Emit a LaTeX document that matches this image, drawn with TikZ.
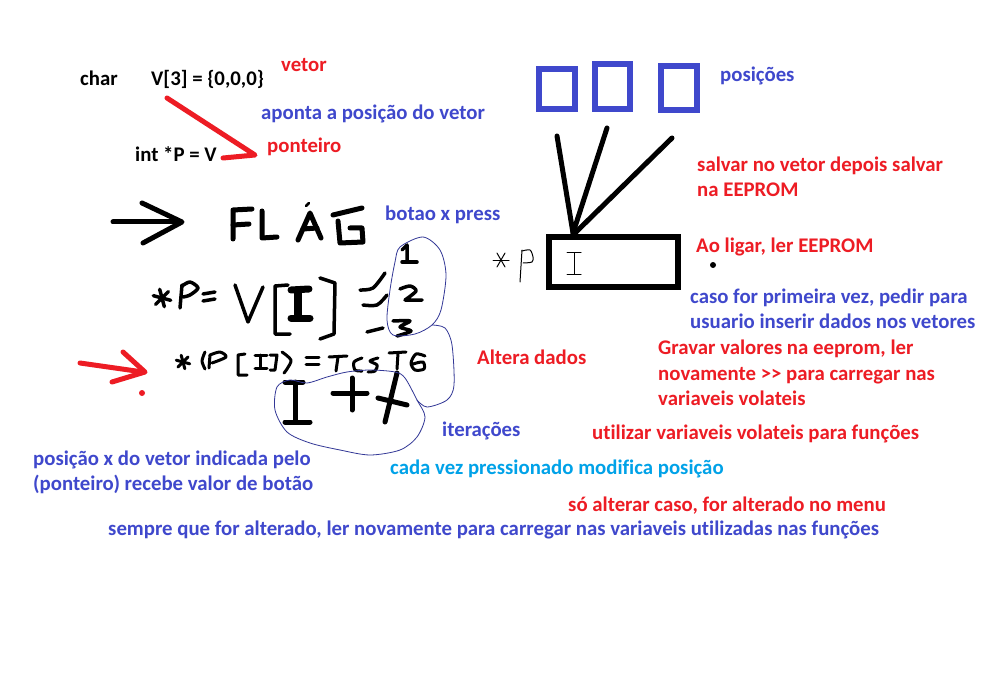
\documentclass[tikz,border=0pt]{standalone}
\usepackage{fontspec}
\setmainfont{Carlito}[Ligatures=CommonOff]
\definecolor{pred}{RGB}{237,28,36}
\definecolor{pblue}{RGB}{63,72,204}
\definecolor{pcyan}{RGB}{0,162,232}
\definecolor{pline}{RGB}{50,55,150}
\begin{document}
\begin{tikzpicture}[x=1pt, y=-1pt,
  txt/.style={anchor=base west, inner sep=0pt,
    font=\fontsize{20.8}{25}\selectfont\bfseries},
  redtxt/.style={txt, text=pred},
  bluetxt/.style={txt, text=pblue},
  cyantxt/.style={txt, text=pcyan},
  blacktxt/.style={txt, text=black},
  pen/.style={line width=5pt, line cap=round, line join=round},
  midpen/.style={line width=3.5pt, line cap=round, line join=round},
  smallpen/.style={line width=3pt, line cap=round, line join=round},
  thinpen/.style={line width=1pt, line cap=round, line join=round},
  boxpen/.style={line width=6pt, line join=miter},
  blob/.style={line width=0.8pt, draw=pline},
]

% Canvas
\useasboundingbox (0,0) rectangle (996,695);
\fill[white] (0,0) rectangle (996,695);

% Declarations (top left)
\node[blacktxt] (char) at (80,86) {char};
\node[blacktxt] (vec) at (151,86) {V[3] = \{0,0,0\}};
\node[redtxt] (vetor) at (281,72) {vetor};
\node[bluetxt] (aponta) at (261,120) {aponta a posição do vetor};
\node[blacktxt] (intp) at (135,162) {int *P = V};
\node[redtxt] (ponteiro) at (267,153) {ponteiro};

% Red pointer stroke
\coordinate (tip) at (255,155);
\draw[pen, pred] (167,98) -- (tip) -- (223,158);

% Arrow and FLAG
\draw[pen] (113,222) -- (180,222);
\draw[pen] (142,203) -- (182,222) -- (143,243);
\draw[pen] (252,209) -- (233,210) -- (233,239);
\draw[pen] (233,225) -- (249,224);
\draw[pen] (262,211) -- (262,238) -- (277,237);
\draw[pen] (298,240) -- (310,213) -- (321,238);
\draw[pen] (303,229) -- (317,228);
\draw[line width=2.5pt, line cap=round] (306,206) -- (309,203);
\draw[pen] (333,215) -- (362,208);
\draw[pen] (350,228) -- (362,228) -- (363,242) -- (340,243) -- (338,221);
\node[bluetxt] (botao) at (385,221) {botao x press};

% *P = V[I] = 1 2 3
\foreach \a in {15,75,135}
  \draw[midpen] (162,298) ++(\a:9) -- ++(\a+180:18);
\draw[midpen] (182,285) -- (180,308);
\draw[midpen] plot[smooth] coordinates {(182,286) (190,282) (198,288) (190,295) (183,297)};
\draw[midpen] (203,294) -- (215,292);
\draw[midpen] (203,301) -- (215,299);
\draw[midpen] (235,285) -- (248,322) -- (263,287);
\draw[midpen] (288,285) -- (275,286) -- (275,334) -- (290,334);
\draw[line width=8pt, line cap=round] (298,291) -- (298,317);
\draw[line width=7pt, line cap=round] (291,290) -- (309,289);
\draw[line width=7pt, line cap=round] (291,318) -- (310,318);
\draw[midpen] (320,278) -- (335,283) -- (334,334) -- (320,339);
\draw[midpen] plot[smooth] coordinates {(360,290) (373,288) (385,273)};
\draw[midpen] plot[smooth] coordinates {(363,305) (377,305) (387,295)};
\draw[midpen] (367,332) -- (383,328);
\draw[midpen] (402,250) -- (407,245) -- (407,262);
\draw[midpen] (402,262) -- (417,262);
\draw[midpen] plot[smooth] coordinates {(400,289) (410,286) (416,291) (405,300)} -- (422,300);
\draw[midpen] plot[smooth] coordinates {(393,321) (410,321) (400,327) (411,331) (397,336)};

% Red arrow
\draw[pen, pred] (80,363) -- (143,372);
\draw[pen, pred] (123,352) -- (145,372) -- (112,382);
\fill[pred] (142,393) circle (3);

% *(P[I]) = TcsT6
\foreach \a in {15,75,135}
  \draw[smallpen] (183,362) ++(\a:7) -- ++(\a+180:14);
\draw[smallpen] plot[smooth] coordinates {(205,352) (202,361) (205,369)};
\draw[smallpen] (210,355) -- (209,368);
\draw[smallpen] plot[smooth] coordinates {(210,355) (220,352) (226,357) (212,363)};
\draw[smallpen] (245,354) -- (238,355) -- (238,375) -- (247,375);
\draw[smallpen] (260,355) -- (260,368);
\draw[smallpen] (255,355) -- (267,355);
\draw[smallpen] (255,368) -- (267,368);
\draw[smallpen] (270,355) -- (277,355) -- (275,370) -- (270,370);
\draw[smallpen] plot[smooth] coordinates {(282,352) (291,360) (287,369) (284,373)};
\draw[smallpen] (306,357) -- (319,357);
\draw[smallpen] (306,364) -- (319,364);
\draw[smallpen] (329,357) -- (347,356);
\draw[smallpen] (338,357) -- (336,371);
\draw[smallpen] plot[smooth] coordinates {(362,358) (354,362) (355,370) (362,371)};
\draw[smallpen] plot[smooth] coordinates {(378,358) (370,361) (377,365) (375,371) (368,372)};
\draw[smallpen] (389,353) -- (406,352);
\draw[smallpen] (398,353) -- (397,369);
\draw[smallpen] plot[smooth] coordinates {(425,356) (416,354) (411,363) (415,370) (424,369) (423,362) (413,364)};

% I + X
\draw[pen] (295,382) -- (295,420);
\draw[pen] (285,382) -- (303,382);
\draw[pen] (285,422) -- (310,422);
\draw[pen] (333,393) -- (367,393);
\draw[pen] (352,378) -- (352,410);
\draw[pen] (397,373) -- (385,422);
\draw[pen] (378,398) -- (407,405);

% Blobs
\draw[blob] plot[smooth cycle] coordinates {(400,247) (423,237) (440,250) (446,275)
  (441,310) (432,325) (415,334) (393,335) (387,320) (390,290) (395,262)};
\draw[blob] plot[smooth] coordinates {(432,325) (445,328) (452,345) (454,385)
  (447,400) (427,407) (417,400)};
\draw[blob] plot[smooth cycle] coordinates {(417,400) (425,417) (417,437) (400,450)
  (370,455) (340,450) (310,443) (287,432) (275,410) (277,387) (290,380) (307,383)
  (327,377) (347,372) (370,370) (395,372) (405,378)};
\node[redtxt] (altera) at (477,364) {Altera dados};
\node[bluetxt] (iter) at (442,436) {iterações};

% Positions and pointer box
\draw[boxpen, pblue] (539,69) rectangle (575,109);
\draw[boxpen, pblue] (595,64) rectangle (630,109);
\draw[boxpen, pblue] (661,66) rectangle (697,110);
\node[bluetxt] (posicoes) at (720,82) {posições};
\coordinate (fan) at (573,233);
\draw[pen] (557,136) -- (fan);
\draw[pen] (607,128) -- (fan);
\draw[pen] (672,138) -- (575,233);
\draw[boxpen] (549,237) rectangle (678,287);
\draw[thinpen] (574,253) -- (574,274);
\draw[thinpen] (567,253) -- (581,253);
\draw[thinpen] (567,274) -- (581,274);
\foreach \a in {0,60,120}
  \draw[thinpen] (501,260) ++(\a:8) -- ++(\a+180:16);
\draw[thinpen] (522,250) -- (520,282);
\draw[thinpen] plot[smooth] coordinates {(522,251) (530,250) (533,257) (532,262) (523,263)};
\fill (713,265) circle (3);

% Notes (right)
\node[redtxt] (salvar1) at (697,172) {salvar no vetor depois salvar};
\node[redtxt] (salvar2) at (697,197) {na EEPROM};
\node[redtxt] (ligar) at (696,252) {Ao ligar, ler EEPROM};
\node[bluetxt] (caso1) at (690,303) {caso for primeira vez, pedir para};
\node[bluetxt] (caso2) at (690,328) {usuario inserir dados nos vetores};
\node[redtxt] (gravar1) at (658,354) {Gravar valores na eeprom, ler};
\node[redtxt] (gravar2) at (658,380) {novamente >\kern0pt> para carregar nas};
\node[redtxt] (gravar3) at (658,405) {variaveis volateis};
\node[redtxt] (utilizar) at (592,439) {utilizar variaveis volateis para funções};

% Notes (bottom)
\node[bluetxt] (posx1) at (33,465) {posição x do vetor indicada pelo};
\node[bluetxt] (posx2) at (33,490) {(ponteiro) recebe valor de botão};
\node[cyantxt] (cada) at (390,474) {cada vez pressionado modifica posição};
\node[redtxt] (so) at (568,511) {só alterar caso, for alterado no menu};
\node[bluetxt] (sempre) at (108,535) {sempre que for alterado, ler novamente para carregar nas variaveis utilizadas nas funções};

\end{tikzpicture}
\end{document}
